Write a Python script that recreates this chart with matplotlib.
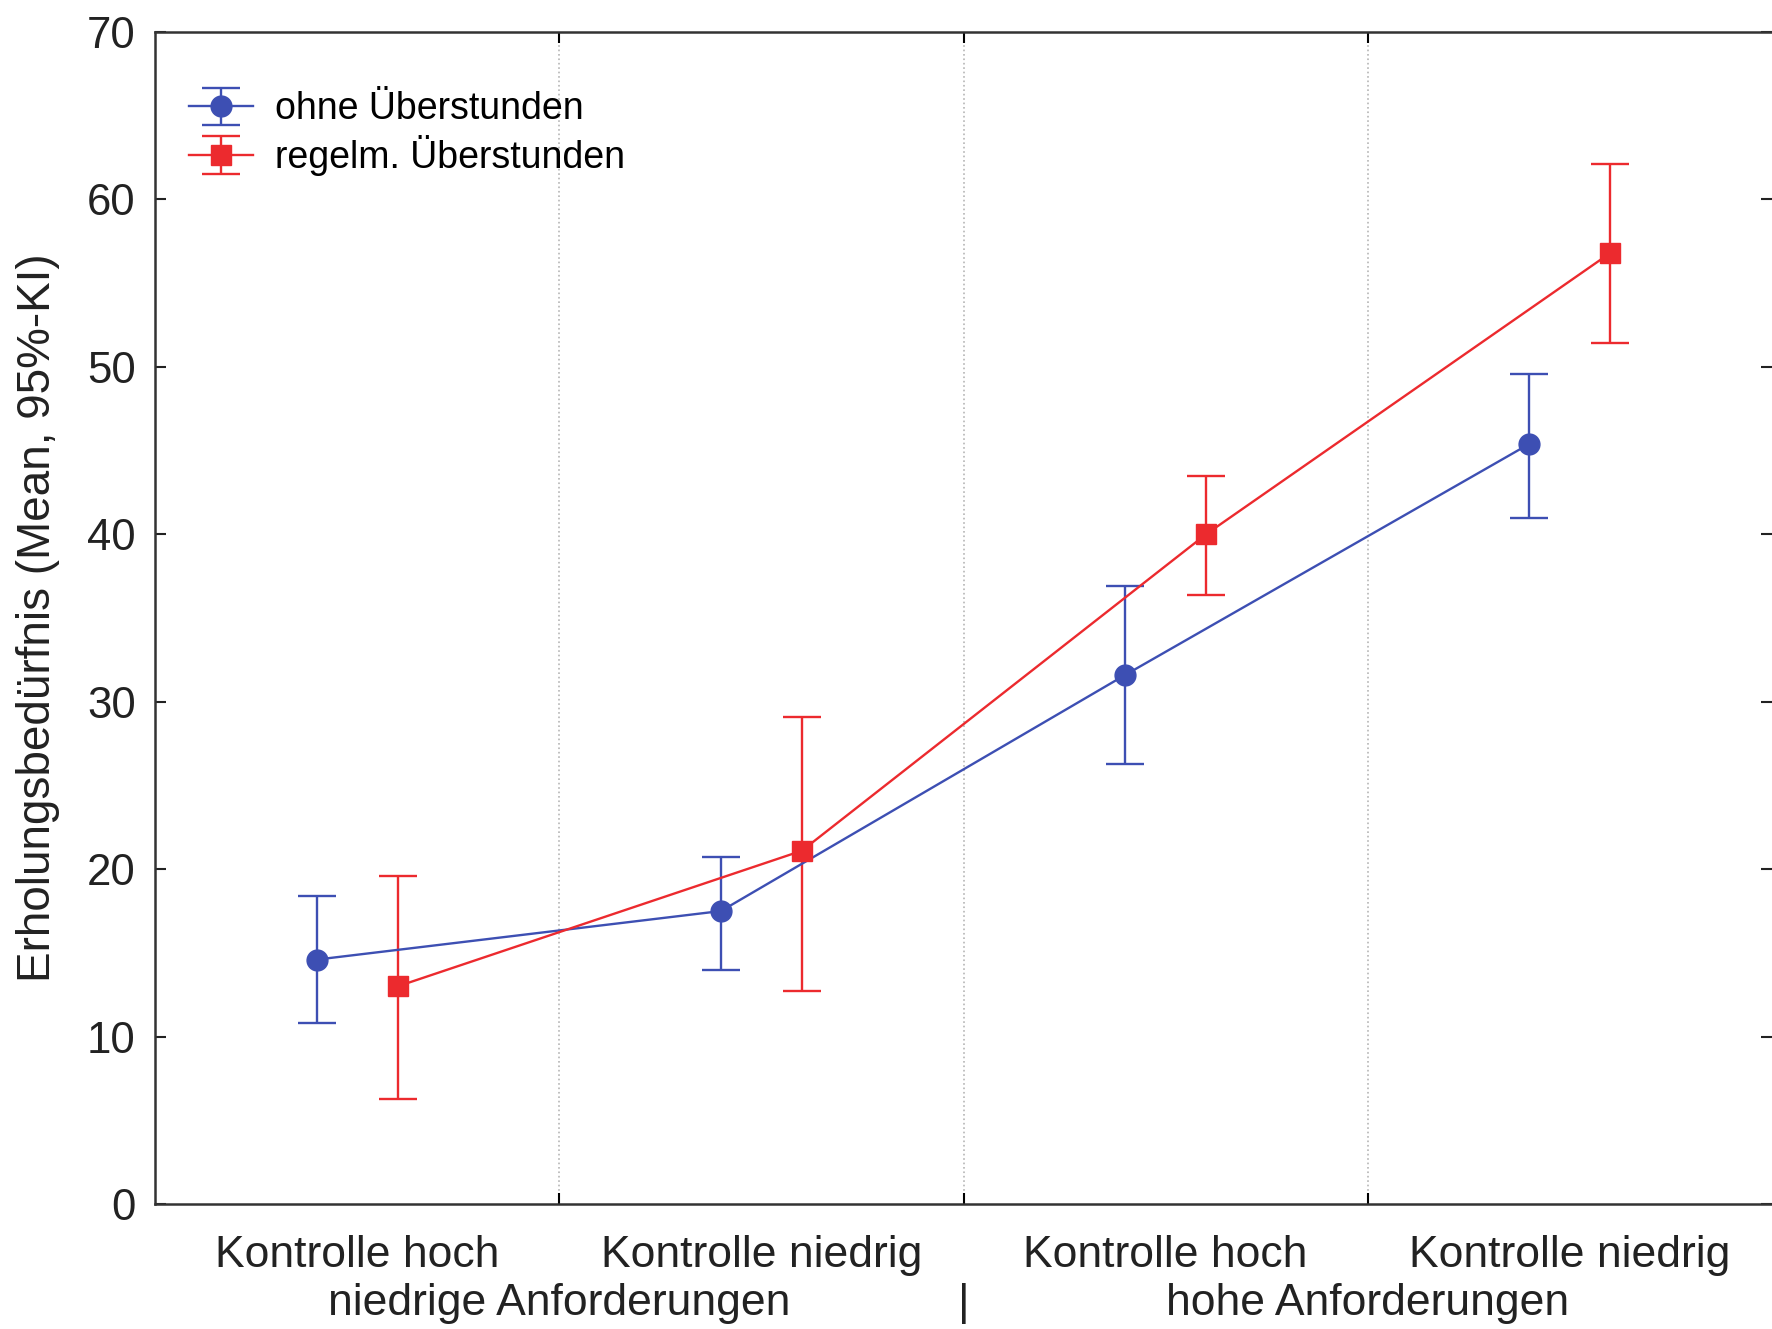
# Erholungsbeduerfnis nach Anforderungen / Kontrolle / Ueberstunden

import matplotlib
matplotlib.use("Agg")
import matplotlib.pyplot as plt

plt.rcParams['font.family'] = ['Liberation Sans', 'DejaVu Sans']

# Data (mean and 95%-KI bounds)
groups = ["Kontrolle hoch", "Kontrolle niedrig", "Kontrolle hoch", "Kontrolle niedrig"]
upper_labels = ["niedrige Anforderungen", "|", "hohe Anforderungen"]

ohne_mean = [14.6, 17.5, 31.6, 45.4]
ohne_low = [10.8, 14.0, 26.3, 41.0]
ohne_high = [18.4, 20.7, 36.9, 49.6]

regelm_mean = [13.0, 21.1, 40.0, 56.8]
regelm_low = [6.3, 12.7, 36.4, 51.4]
regelm_high = [19.6, 29.1, 43.5, 62.1]

blue = '#3d4fb3'
red = '#ec2a2e'

fig = plt.figure(figsize=(17.72, 13.29), dpi=100)
ax = fig.add_axes([0.0875, 0.094, 0.9125, 0.882])

x_blue = [i + 0.4 for i in range(len(groups))]
x_red = [i + 0.6 for i in range(len(groups))]

err_blue = [[m - lo for m, lo in zip(ohne_mean, ohne_low)],
            [hi - m for m, hi in zip(ohne_mean, ohne_high)]]
err_red = [[m - lo for m, lo in zip(regelm_mean, regelm_low)],
           [hi - m for m, hi in zip(regelm_mean, regelm_high)]]

ax.errorbar(x_blue, ohne_mean, yerr=err_blue, color=blue, marker='o', ms=15,
            lw=1.7, elinewidth=1.7, capsize=14, capthick=1.7,
            label='ohne Überstunden', zorder=3)
ax.errorbar(x_red, regelm_mean, yerr=err_red, color=red, marker='s', ms=15,
            lw=1.7, elinewidth=1.7, capsize=14, capthick=1.7,
            label='regelm. Überstunden', zorder=3)

# dotted separators between categories
for b in [1, 2, 3]:
    ax.axvline(b, color='#b5b5b5', ls=':', lw=1.2, zorder=1)

ax.set_xlim(0, 4)
ax.set_ylim(0, 70)
ax.set_yticks(range(0, 71, 10))
ax.set_xticks([i + 0.5 for i in range(len(groups))])
ax.set_xticklabels(groups)
ax.set_xticks([1, 2, 3], minor=True)

ax.tick_params(axis='x', which='major', length=0, pad=22, labelsize=32, colors='#222222')
ax.tick_params(axis='x', which='minor', direction='in', length=8, width=1.5,
               top=True, bottom=True)
ax.tick_params(axis='y', direction='in', length=8, width=1.5, right=True,
               labelsize=31.5, pad=14, colors='#222222')

for s in ['left', 'bottom', 'top']:
    ax.spines[s].set_linewidth(1.8)
    ax.spines[s].set_color('#333333')
ax.spines['right'].set_visible(False)

ax.set_ylabel('Erholungsbedürfnis (Mean, 95%-KI)', fontsize=33, color='#222222')
ax.yaxis.set_label_coords(-0.059, 0.5)

# second row of category labels
for pos, txt in zip([1, 2, 3], upper_labels):
    ax.text(pos, -0.085, txt, transform=ax.get_xaxis_transform(), ha='center',
            va='center', fontsize=32, color='#222222')

ax.legend(loc='upper left', bbox_to_anchor=(0.0, 0.978), frameon=False,
          fontsize=27, handlelength=1.7, handletextpad=0.6, labelspacing=0.2,
          numpoints=1)

fig.savefig('out.png', dpi=100)
